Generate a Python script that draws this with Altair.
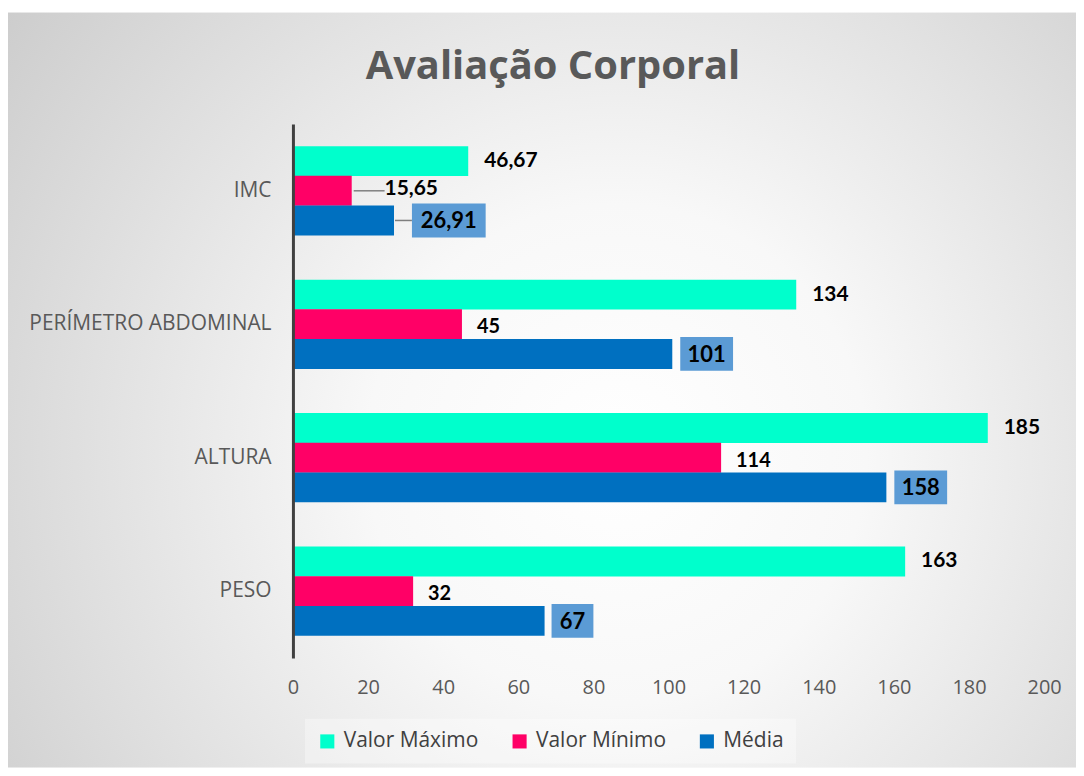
import altair as alt
import pandas as pd

categories = ["IMC", "PERÍMETRO ABDOMINAL", "ALTURA", "PESO"]
series_names = ["Valor Máximo", "Valor Mínimo", "Média"]
valor_maximo = [46.67, 134, 185, 163]
valor_minimo = [15.65, 45, 114, 32]
media = [26.91, 101, 158, 67]
x_ticks = [0, 20, 40, 60, 80, 100, 120, 140, 160, 180, 200]
chart_title = "Avaliação Corporal"

colors = ["#00FFCC", "#FF0066", "#0070C0"]


def fmt(v):
    s = f"{v:.2f}".rstrip("0").rstrip(".")
    return s.replace(".", ",")


rows = []
for s, vals in zip(series_names, [valor_maximo, valor_minimo, media]):
    for c, v in zip(categories, vals):
        rows.append({"cat": c, "series": s, "value": v, "label": fmt(v)})
df = pd.DataFrame(rows)

W, H = 754, 536
PL, PT, PR, PB = 286, 115, 32, 110
FONT = "Open Sans"
NUMFONT = "Lato"

y_enc = alt.Y("cat:N", sort=categories, title=None,
              scale=alt.Scale(paddingInner=0.333, paddingOuter=0.167),
              axis=alt.Axis(domain=True, domainColor="#404040", domainWidth=3,
                            ticks=False, labelFontSize=21, labelColor="#595959",
                            labelFont=FONT, labelPadding=22, grid=False, zindex=1,
                            labelLimit=400))
yoff = alt.YOffset("series:N", sort=series_names)
x_enc = alt.X("value:Q", title=None,
              scale=alt.Scale(domain=[0, 200], nice=False, zero=True),
              axis=alt.Axis(values=x_ticks, domain=False, ticks=False, grid=False,
                            labelFontSize=20, labelColor="#595959", labelFont=FONT,
                            labelPadding=20, zindex=1, labelFlush=False,
                            labelOverlap=False))

base = alt.Chart(df)

bg = alt.Chart(pd.DataFrame({"a": [0]})).mark_rect(
    fill=alt.RadialGradient(
        gradient="radial",
        stops=[alt.GradientStop(color="#ffffff", offset=0),
               alt.GradientStop(color="#f8f8f8", offset=0.3),
               alt.GradientStop(color="#c6c6c6", offset=1)],
        x1=0.57, y1=0.56, x2=0.57, y2=0.56, r1=0, r2=0.78),
).encode(x=alt.value(-PL), x2=alt.value(W + PR), y=alt.value(-PT + 3), y2=alt.value(H + PB))

title_txt = alt.Chart(pd.DataFrame({"t": [chart_title]})).mark_text(
    align="center", baseline="alphabetic", fontSize=40, font=FONT,
    fontWeight="bold", color="#595959").encode(
    text="t:N", x=alt.value(261), y=alt.value(-45))

bars = base.mark_bar(size=30).encode(
    x=x_enc, y=y_enc, yOffset=yoff,
    color=alt.Color("series:N", sort=series_names,
                    scale=alt.Scale(domain=series_names, range=colors),
                    legend=alt.Legend(orient="none", legendX=12, legendY=597,
                                      direction="horizontal", title=None,
                                      symbolType="square", symbolSize=200,
                                      symbolStrokeWidth=0, labelFontSize=21,
                                      labelColor="#404040", labelFont=FONT,
                                      columnPadding=30, padding=12,
                                      fillColor="rgba(255,255,255,0.35)",
                                      labelOffset=6)),
)


def enc(d):
    return d.encode(x=alt.X("value:Q"), y=alt.Y("cat:N", sort=categories),
                    yOffset=alt.YOffset("series:N", sort=series_names),
                    text="label:N")


max_lbl = enc(base.transform_filter(alt.datum.series == "Valor Máximo").mark_text(
    align="left", baseline="middle", dx=16, fontSize=21, font=NUMFONT,
    fontWeight="bold", color="#000000"))

min_lbl = enc(base.transform_filter(
    (alt.datum.series == "Valor Mínimo") & (alt.datum.cat != "IMC")).mark_text(
    align="left", baseline="middle", dx=15, dy=3, fontSize=20, font=NUMFONT,
    fontWeight="bold", color="#000000"))

min_imc_lbl = enc(base.transform_filter(
    (alt.datum.series == "Valor Mínimo") & (alt.datum.cat == "IMC")).mark_text(
    align="left", baseline="middle", dx=33, dy=-2, fontSize=21, font=NUMFONT,
    fontWeight="bold", color="#000000"))

min_imc_rule = base.transform_filter(
    (alt.datum.series == "Valor Mínimo") & (alt.datum.cat == "IMC")).mark_rule(
    color="#7f7f7f", strokeWidth=1.5, xOffset=2, x2Offset=33).encode(
    x="value:Q", x2="value:Q", y=alt.Y("cat:N", sort=categories),
    yOffset=alt.YOffset("series:N", sort=series_names))

media_layers = []
groups = [(["PESO"], 42, 7), (["PERÍMETRO ABDOMINAL", "ALTURA"], 53, 8), (["IMC"], 74, 18)]
for cats, w, gap in groups:
    sub = base.transform_filter(alt.datum.series == "Média").transform_filter(
        alt.FieldOneOfPredicate(field="cat", oneOf=cats))
    box = sub.mark_bar(height=34, color="#5B9BD5", xOffset=gap, x2Offset=gap + w).encode(
        x="value:Q", x2="value:Q", y=alt.Y("cat:N", sort=categories),
        yOffset=alt.YOffset("series:N", sort=series_names))
    txt = enc(sub.mark_text(align="center", baseline="middle", dx=gap + w / 2, dy=1,
                            fontSize=22, font=NUMFONT, fontWeight="bold",
                            color="#000000"))
    media_layers += [box, txt]

media_imc_rule = base.transform_filter(
    (alt.datum.series == "Média") & (alt.datum.cat == "IMC")).mark_rule(
    color="#7f7f7f", strokeWidth=1.5, xOffset=1, x2Offset=18).encode(
    x="value:Q", x2="value:Q", y=alt.Y("cat:N", sort=categories),
    yOffset=alt.YOffset("series:N", sort=series_names))

chart = alt.layer(bg, title_txt, bars, max_lbl, min_imc_rule, min_lbl, min_imc_lbl,
                  media_imc_rule, *media_layers).properties(
    width=W, height=H,
    autosize=alt.AutoSizeParams(type="none"),
    padding={"left": PL, "top": PT, "right": PR, "bottom": PB},
).configure_view(stroke=None).configure(background="#ffffff")

chart.save("out.html", embed_options={"renderer": "svg", "actions": False})
